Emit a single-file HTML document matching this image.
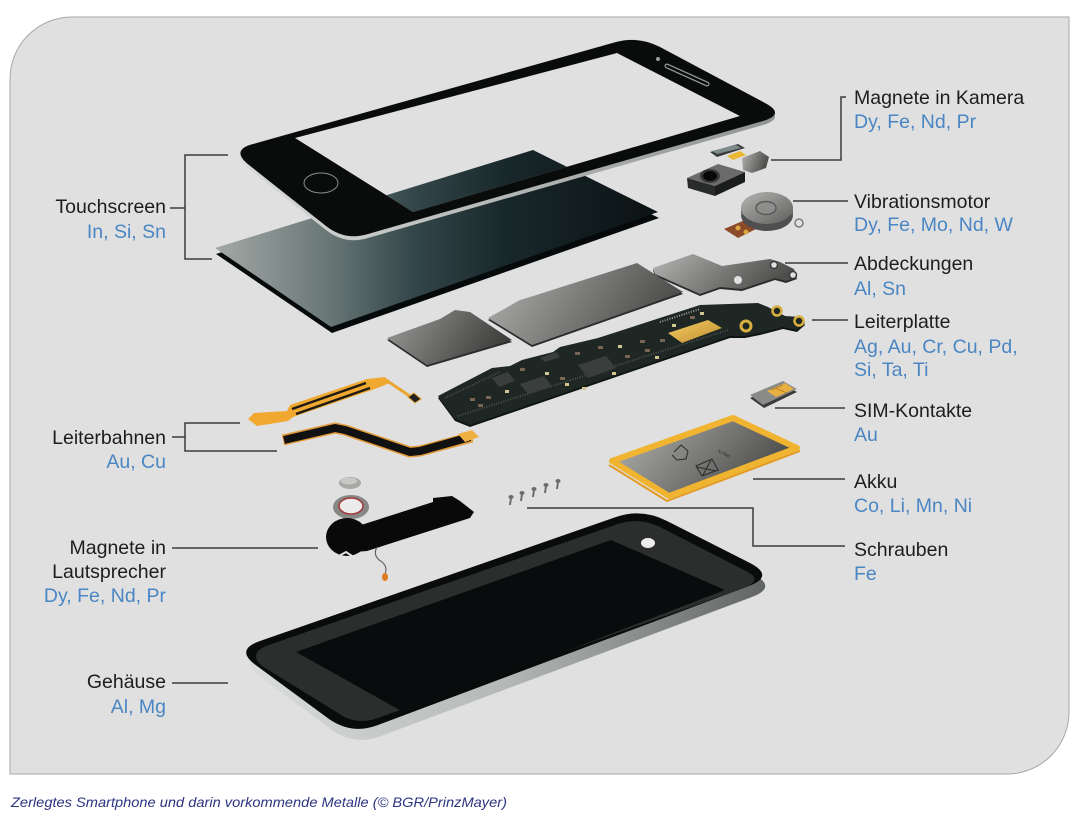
<!DOCTYPE html>
<html><head><meta charset="utf-8"><style>
html,body{margin:0;padding:0;background:#fff;}
svg{display:block;}
.lb{font-family:"Liberation Sans",Arial,sans-serif;font-size:19.5px;fill:#1d1d1b;}
.bl{font-family:"Liberation Sans",Arial,sans-serif;font-size:19.5px;fill:#4a86c3;}
.cap{font-family:"Liberation Sans",Arial,sans-serif;font-size:14px;font-style:italic;fill:#2b3580;}
.ln{stroke:#3a3a3a;stroke-width:1.5;fill:none;}
</style></head><body>
<svg width="1080" height="825" viewBox="0 0 1080 825" xmlns="http://www.w3.org/2000/svg">
<defs>
<linearGradient id="slab" gradientUnits="userSpaceOnUse" x1="215" y1="0" x2="658" y2="0">
<stop offset="0" stop-color="#a3a9a7"/><stop offset="0.25" stop-color="#6a7877"/><stop offset="0.45" stop-color="#334649"/><stop offset="0.65" stop-color="#19282b"/><stop offset="1" stop-color="#0b1214"/></linearGradient>
<linearGradient id="shield" x1="0" y1="0" x2="1" y2="0.3">
<stop offset="0" stop-color="#b4b5b3"/><stop offset="1" stop-color="#4c4d4b"/></linearGradient>
<linearGradient id="shield2" x1="0" y1="0" x2="1" y2="0.3">
<stop offset="0" stop-color="#9c9d9b"/><stop offset="1" stop-color="#3f403e"/></linearGradient>
<linearGradient id="batt" x1="0" y1="0" x2="1" y2="0.4">
<stop offset="0" stop-color="#b8b8b4"/><stop offset="1" stop-color="#4c4d4b"/></linearGradient>
<linearGradient id="hside" gradientUnits="userSpaceOnUse" x1="230" y1="0" x2="780" y2="0">
<stop offset="0" stop-color="#dcdfdd"/><stop offset="0.5" stop-color="#b3b7b5"/><stop offset="1" stop-color="#5b5f5d"/></linearGradient>
<linearGradient id="fedge" gradientUnits="userSpaceOnUse" x1="230" y1="0" x2="790" y2="0">
<stop offset="0" stop-color="#d8dbd9"/><stop offset="1" stop-color="#8e9290"/></linearGradient>
<linearGradient id="gold" x1="0" y1="0" x2="1" y2="1">
<stop offset="0" stop-color="#f3cf6a"/><stop offset="1" stop-color="#c08a2a"/></linearGradient>
<linearGradient id="motor" x1="0" y1="0" x2="1" y2="1">
<stop offset="0" stop-color="#b5b5b3"/><stop offset="1" stop-color="#5e5f5d"/></linearGradient>
</defs>
<rect width="1080" height="825" fill="#ffffff"/>
<path d="M10,79 A62,62 0 0 1 72,17 L1069,17 L1069,712 A62,62 0 0 1 1007,774 L10,774 Z" fill="#e0e0e0" stroke="#a8a8a8" stroke-width="1"/>

<!-- touch slab -->
<polygon points="216,254 332,333 659,218 534,156" fill="#060a0b"/>
<polygon points="215,248 331,327 658,212 533,150" fill="url(#slab)"/>

<!-- top phone frame -->
<path fill-rule="evenodd" fill="url(#fedge)" d="M253,148 L616,46 Q639,40 660,51 L765,107 Q786,118 763,125 L368,238 Q345,245 326,230 L249,169 Q230,154 253,148 Z M295,138 L617,53 L740,116 L413,212 Z"/>
<path fill-rule="evenodd" fill="#0a0c0c" d="M253,144 L616,42 Q639,36 660,47 L765,103 Q786,114 763,121 L368,234 Q345,241 326,226 L249,165 Q230,150 253,144 Z M295,138 L617,53 L740,116 L413,212 Z"/>
<ellipse cx="321" cy="183" rx="17" ry="10" fill="none" stroke="#8a8d8c" stroke-width="1"/>
<path d="M667,66 L707,84" stroke="#9a9d9c" stroke-width="5" stroke-linecap="round"/>
<path d="M667,66 L707,84" stroke="#0a0c0c" stroke-width="2.5" stroke-linecap="round"/>
<circle cx="658" cy="59" r="2" fill="#9a9d9c"/>

<!-- camera -->
<polygon points="710,152 738,144 745,148 717,157" fill="#3a3c3b"/>
<polygon points="712,151 736,145 741,148 717,154" fill="#7d8a8a"/>
<polygon points="727,156 740,151 746,155 733,160" fill="#e8b830"/>
<polygon points="742,158 760,151 769,157 766,168 752,173 743,170" fill="url(#shield)"/>
<polygon points="687,178 718,164 745,172 715,186" fill="#6a6b6a"/>
<polygon points="687,178 715,186 715,196 688,188" fill="#2a2b2b"/>
<polygon points="715,186 745,172 745,182 715,196" fill="#1b1c1c"/>
<ellipse cx="710" cy="176" rx="10" ry="7" fill="#3a3a3a"/>
<ellipse cx="710" cy="176" rx="7" ry="5" fill="#080808"/>

<!-- vibration motor -->
<polygon points="724,229 745,220 758,228 738,238" fill="#8b4a28"/>
<circle cx="738" cy="228" r="2.5" fill="#d9a640"/><circle cx="746" cy="232" r="2.5" fill="#d9a640"/>
<ellipse cx="767" cy="215" rx="26" ry="16" fill="#4e4f4e"/>
<rect x="741" y="208" width="52" height="7" fill="#6a6b6a"/>
<ellipse cx="767" cy="208" rx="26" ry="16" fill="url(#motor)"/>
<ellipse cx="766" cy="208" rx="10" ry="6.5" fill="#8d8e8c" stroke="#5a5b5a" stroke-width="1.5"/>
<circle cx="799" cy="223" r="4" fill="#e0e0e0" stroke="#7a7b7a" stroke-width="1.5"/>

<!-- abdeckungen shield -->
<polygon points="653,268 693,254 722,266 770,259 780,262 794,269 797,277 786,281 775,278 742,289 720,287 700,294 655,274" fill="#2a2b2a" transform="translate(0,2)"/>
<polygon points="653,268 693,254 722,266 770,259 780,262 794,269 797,277 786,281 775,278 742,289 720,287 700,294 655,274" fill="url(#shield)"/>
<circle cx="738" cy="280" r="4" fill="#e0e0e0"/>
<circle cx="774" cy="265" r="3.5" fill="#e0e0e0" stroke="#3a3a3a" stroke-width="1.5"/>
<circle cx="793" cy="275" r="3.5" fill="#e0e0e0" stroke="#3a3a3a" stroke-width="1.5"/>

<!-- middle shields -->
<polygon points="488,320 520,302 530,299 637,265 683,294 532,347" fill="#2b2c2b"/>
<polygon points="488,318 520,300 530,297 637,263 683,292 532,345" fill="url(#shield)"/>
<polygon points="387,340 440,321 455,312 470,314 512,342 427,367" fill="#2b2c2b"/>
<polygon points="387,338 440,319 455,310 470,312 512,340 427,365" fill="url(#shield2)"/>

<!-- PCB -->
<polygon points="438,396 492,368 510,366 522,360 553,352 560,347 598,338 700,305 758,303 768,307 785,316 800,317 805,323 797,330 783,327 760,333 745,336 730,336 470,425 455,419" fill="#0f1512" transform="translate(0,2)"/>
<polygon points="438,396 492,368 510,366 522,360 553,352 560,347 598,338 700,305 758,303 768,307 785,316 800,317 805,323 797,330 783,327 760,333 745,336 730,336 470,425 455,419" fill="#1e2723"/>
<path d="M458,416 L728,330" stroke="#4a524d" stroke-width="2" stroke-dasharray="1 1.5"/>
<path d="M445,398 L500,372" stroke="#4a524d" stroke-width="2" stroke-dasharray="1 1.5"/>
<polygon points="668,333 708,320 722,328 682,343" fill="url(#gold)"/>
<path d="M660,322 L700,309" stroke="#9aa09c" stroke-width="2" stroke-dasharray="1 1.5"/>
<circle cx="777" cy="311" r="4.5" fill="#1e2723" stroke="#d8b040" stroke-width="2.5"/>
<circle cx="799" cy="321" r="4.5" fill="#1e2723" stroke="#d8b040" stroke-width="2.5"/>
<circle cx="746" cy="326" r="5" fill="#1e2723" stroke="#d8b040" stroke-width="3"/>
<polygon points="578,365 606,356 616,368 588,378" fill="#3a3e3c"/>
<polygon points="520,384 544,376 552,386 528,394" fill="#3a3e3c"/>
<polygon points="492,378 508,372 515,381 499,387" fill="#3a3e3c"/>
<polygon points="540,358 556,352 560,357 545,362" fill="#3a3e3c"/>
<g fill="#7a6554">
<rect x="470" y="398" width="5" height="3"/><rect x="478" y="404" width="5" height="3"/><rect x="486" y="396" width="5" height="3"/>
<rect x="560" y="377" width="5" height="3"/><rect x="575" y="352" width="5" height="3"/><rect x="625" y="355" width="5" height="3"/>
<rect x="645" y="349" width="5" height="3"/><rect x="660" y="339" width="5" height="3"/><rect x="640" y="340" width="5" height="3"/>
<rect x="598" y="346" width="5" height="3"/><rect x="690" y="316" width="5" height="3"/><rect x="520" y="368" width="5" height="3"/>
</g>
<g fill="#d2c48e">
<rect x="505" y="390" width="4" height="3"/><rect x="565" y="383" width="4" height="3"/><rect x="582" y="387" width="4" height="3"/>
<rect x="618" y="345" width="4" height="3"/><rect x="655" y="356" width="4" height="3"/><rect x="700" y="312" width="4" height="3"/>
<rect x="612" y="372" width="4" height="3"/><rect x="545" y="372" width="4" height="3"/><rect x="672" y="324" width="4" height="3"/>
</g>

<!-- SIM -->
<polygon points="750,398 783,384 797,392 764,408" fill="#3a3b3a"/>
<polygon points="750,395 783,381 797,389 763,405" fill="#8a8b89"/>
<polygon points="767,391 785,383 794,389 776,397" fill="#e8b040"/>
<path d="M775,388 L787,393 M771,390 L783,385" stroke="#b07a20" stroke-width="0.8"/>

<!-- flex cables -->
<polygon points="248,419 254,413 287,411 290,405 367,379 385,377 390,383 372,390 293,417 288,421 257,426" fill="#f0a830"/>
<path d="M292,409 L366,383 M296,414 L370,388" stroke="#1e1a14" stroke-width="2.5"/>
<path d="M386,380 L414,399" stroke="#eaa430" stroke-width="3"/>
<polygon points="408,397 414,393 421,399 415,403" fill="#222" stroke="#e0a030" stroke-width="1"/>
<path d="M283,440 L335,428 L345,430 L410,452 L420,451 L472,437" stroke="#e29a3a" stroke-width="11" fill="none" stroke-linejoin="round"/>
<path d="M284,440 L335,428 L345,430 L410,452 L420,451 L470,437" stroke="#111" stroke-width="8" fill="none" stroke-linejoin="round"/>
<polygon points="458,434 472,430 479,437 465,442" fill="#f0b040"/>

<!-- speaker -->
<ellipse cx="350" cy="483" rx="11" ry="6" fill="#a8a9a7"/>
<ellipse cx="349" cy="481" rx="8" ry="3.5" fill="#c8c9c7"/>
<ellipse cx="351" cy="507" rx="18" ry="12" fill="#878886"/>
<ellipse cx="351" cy="506" rx="12" ry="8" fill="#ececec" stroke="#a03838" stroke-width="1.5"/>
<ellipse cx="347" cy="537" rx="21" ry="19" fill="#090909"/>
<polygon points="358,526 433,502 433,498 452,496 460,501 474,512 470,518 367,551 355,552" fill="#090909"/>
<path d="M337,557 L346,552 L352,556" stroke="#e0e0e0" stroke-width="2" fill="none"/>
<path d="M377,547 Q372,556 382,562 Q388,567 385,574" stroke="#555" stroke-width="1" fill="none"/>
<ellipse cx="385" cy="577" rx="3" ry="4" fill="#e07a20"/>

<!-- screws -->
<g stroke="#6c6d6b" stroke-width="2" fill="#7a7b79">
<path d="M511,498 L510,505"/><path d="M522,494 L521,501"/><path d="M534,490 L533,497"/><path d="M546,486 L545,493"/><path d="M558,482 L557,489"/>
</g>
<g fill="#6c6d6b">
<ellipse cx="511" cy="497" rx="2.5" ry="2"/><ellipse cx="522" cy="493" rx="2.5" ry="2"/><ellipse cx="534" cy="489" rx="2.5" ry="2"/><ellipse cx="546" cy="485" rx="2.5" ry="2"/><ellipse cx="558" cy="481" rx="2.5" ry="2"/>
</g>

<!-- battery -->
<path d="M612,461 L733,418 L797,448 L669,496 Z" fill="url(#batt)" stroke="#f0b430" stroke-width="6" stroke-linejoin="round"/>
<path d="M609,465 L667,501 L800,451" fill="none" stroke="#e39a22" stroke-width="2" stroke-linejoin="round"/>
<g stroke="#2a2a2a" stroke-width="1" fill="none">
<path d="M674,452 L681,445 L688,451 M688,451 L686,459 L677,460 M677,460 L672,455"/>
<path d="M696,466 L712,459 L718,470 L702,476 Z M697,467 L716,471 M711,460 L703,475"/>
</g>
<text x="718" y="452" transform="rotate(28 718 452)" font-family="Liberation Sans, Arial, sans-serif" font-size="5" fill="#222">Li-Ion</text>

<!-- bottom housing -->
<path transform="translate(3,11)" d="M260,641 L616,517 Q642,508 667,521 L750,563 Q775,576 749,586 L378,725 Q352,735 329,719 L257,666 Q234,650 260,641 Z" fill="url(#hside)"/>
<path d="M260,641 L616,517 Q642,508 667,521 L750,563 Q775,576 749,586 L378,725 Q352,735 329,719 L257,666 Q234,650 260,641 Z" fill="#0a0b0b"/>
<path d="M266,646 L618,524 Q640,517 660,527 L746,571 Q764,580 744,588 L378,718 Q356,726 338,713 L262,666 Q248,654 266,646 Z" fill="#2c2e2e"/>
<polygon points="296,652 611,540 725,590 405,713" fill="#0a0b0c"/>
<ellipse cx="648" cy="543" rx="7" ry="5" fill="#ececec"/>

<!-- connector lines -->
<path class="ln" d="M170,208 H185 M228,155 H185 V259 H212"/>
<path class="ln" d="M172,437 H185 M240,423 H185 V451 H277"/>
<path class="ln" d="M172,548 H318"/>
<path class="ln" d="M172,683 H228"/>
<path class="ln" d="M771,160 H841 V97 H846"/>
<path class="ln" d="M793,201 H848"/>
<path class="ln" d="M785,263 H848"/>
<path class="ln" d="M812,320 H848"/>
<path class="ln" d="M775,408 H845"/>
<path class="ln" d="M753,479 H845"/>
<path class="ln" d="M527,508 H753 V546 H845"/>

<!-- left labels -->
<text class="lb" x="166" y="213" text-anchor="end">Touchscreen</text>
<text class="bl" x="166" y="238" text-anchor="end">In, Si, Sn</text>
<text class="lb" x="166" y="444" text-anchor="end">Leiterbahnen</text>
<text class="bl" x="166" y="468" text-anchor="end">Au, Cu</text>
<text class="lb" x="166" y="554" text-anchor="end">Magnete in</text>
<text class="lb" x="166" y="578" text-anchor="end">Lautsprecher</text>
<text class="bl" x="166" y="602" text-anchor="end">Dy, Fe, Nd, Pr</text>
<text class="lb" x="166" y="688" text-anchor="end">Gehäuse</text>
<text class="bl" x="166" y="713" text-anchor="end">Al, Mg</text>

<!-- right labels -->
<text class="lb" x="854" y="104">Magnete in Kamera</text>
<text class="bl" x="854" y="128">Dy, Fe, Nd, Pr</text>
<text class="lb" x="854" y="208">Vibrationsmotor</text>
<text class="bl" x="854" y="231">Dy, Fe, Mo, Nd, W</text>
<text class="lb" x="854" y="270">Abdeckungen</text>
<text class="bl" x="854" y="295">Al, Sn</text>
<text class="lb" x="854" y="328">Leiterplatte</text>
<text class="bl" x="854" y="353">Ag, Au, Cr, Cu, Pd,</text>
<text class="bl" x="854" y="376">Si, Ta, Ti</text>
<text class="lb" x="854" y="417">SIM-Kontakte</text>
<text class="bl" x="854" y="441">Au</text>
<text class="lb" x="854" y="488">Akku</text>
<text class="bl" x="854" y="512">Co, Li, Mn, Ni</text>
<text class="lb" x="854" y="556">Schrauben</text>
<text class="bl" x="854" y="580">Fe</text>

<text class="cap" x="11" y="807" textLength="496" lengthAdjust="spacingAndGlyphs">Zerlegtes Smartphone und darin vorkommende Metalle (© BGR/PrinzMayer)</text>
</svg>
</body></html>
